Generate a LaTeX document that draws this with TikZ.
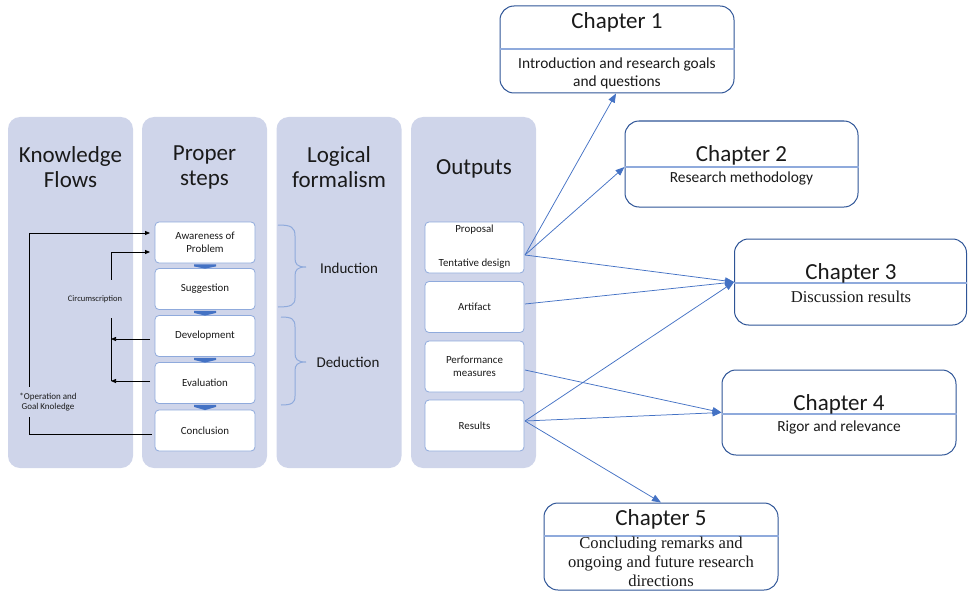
\documentclass[tikz,border=0pt]{standalone}
\usepackage{fontspec}
\setmainfont{Carlito}
\newfontfamily\seriffont{Liberation Serif}
\usetikzlibrary{arrows.meta,calc}
\definecolor{panelfill}{HTML}{CFD5EA}
\definecolor{boxedge}{HTML}{8FAADC}
\definecolor{linkblue}{HTML}{4472C4}
\definecolor{chapedge}{HTML}{2F5597}
\definecolor{inktext}{HTML}{1A1A1A}
\begin{document}
\begin{tikzpicture}[x=1pt,y=-1pt,
  panel/.style={fill=panelfill, draw=none, rounded corners=12pt, minimum width=125pt, minimum height=351pt, inner sep=0pt},
  coltitle/.style={font=\fontsize{23}{25}\selectfont, align=center, text=inktext},
  stepbox/.style={draw=boxedge, fill=white, line width=0.8pt, rounded corners=4pt, minimum width=100pt, minimum height=41pt, inner sep=0pt, font=\fontsize{10.9}{12.5}\selectfont, align=center, text=inktext},
  outbox/.style={draw=boxedge, fill=white, line width=0.8pt, rounded corners=4pt, minimum width=99pt, minimum height=51pt, inner sep=0pt, font=\fontsize{10.9}{12.5}\selectfont, align=center, text=inktext},
  smalltext/.style={font=\fontsize{10.9}{12.5}\selectfont, align=center, text=inktext, inner sep=0pt},
  chapbox/.style={draw=chapedge, fill=white, line width=1pt, rounded corners=14pt, minimum width=234pt, minimum height=87pt, inner sep=0pt},
  chaptitle/.style={font=\fontsize{23}{25}\selectfont, text=inktext, inner sep=0pt},
  chaptext/.style={font=\fontsize{15.4}{18}\selectfont, align=center, text=inktext, inner sep=0pt},
  chapserif/.style={font=\seriffont\fontsize{16.6}{19}\selectfont, align=center, text=inktext, inner sep=0pt},
  divline/.style={draw=boxedge, line width=1.2pt},
  logic/.style={font=\fontsize{15}{17}\selectfont, text=inktext},
  bracket/.style={draw=boxedge, line width=1pt},
  link/.style={draw=linkblue, line width=0.75pt, -{Triangle[length=9pt,width=7pt]}},
  flow/.style={draw=black, line width=0.75pt, -{Triangle[length=5pt,width=4pt]}},
  flowlabel/.style={fill=panelfill, inner xsep=1pt, align=center, text=inktext},
  chevron/.style={fill=linkblue}
]
\useasboundingbox (0,0) rectangle (968,591);

% column panels
\node[panel] (kf)  at (70.5,292.5)  {};
\node[panel] (ps)  at (204.5,292.5) {};
\node[panel] (lf)  at (339,292.5)   {};
\node[panel] (out) at (473.5,292.5) {};

\node[coltitle] (kft) at (70.5,167.5)  {Knowledge\\Flows};
\node[coltitle] (pst) at (204.5,167.5) {Proper\\steps};
\node[coltitle] (lft) at (339,167.5)   {Logical\\formalism};
\node[coltitle] (ott) at (474,169)     {Outputs};

% proper steps
\node[stepbox] (aw)  at (205,242.5) {Awareness of\\Problem};
\node[stepbox] (sug) at (205,289)   {Suggestion};
\node[stepbox] (dev) at (205,336)   {Development};
\node[stepbox] (eva) at (205,383)   {Evaluation};
\node[stepbox] (con) at (205,430.5) {Conclusion};

% small block arrows between the steps
\foreach \a/\b in {aw/sug,sug/dev,dev/eva,eva/con}{
  \fill[chevron] ($(\a.south)+(-11,1)$) -- ($(\a.south)+(11,1)$) -- ($(\a.south)+(11,3)$)
     -- ($(\b.north)+(0,0.5)$) -- ($(\a.south)+(-11,3)$) -- cycle;
}

% knowledge flows
\coordinate (awin1) at (150,233);
\coordinate (awin2) at (150,252);
\coordinate (conout) at (152,434);
\coordinate (devout) at (150,339);
\coordinate (evaout) at (150,381);
\coordinate (devin) at (111,339);
\coordinate (evain) at (111,381);
\draw[flow] (conout) -- (29,434) -- (29,233) -- (awin1);
\draw[flow] (111,381) -- (111,252) -- (awin2);
\draw[flow] (devout) -- (devin);
\draw[flow] (evaout) -- (evain);
\node[flowlabel, font=\fontsize{9}{10.5}\selectfont, minimum height=30pt] (opk) at (48,402) {*Operation and\\Goal Knoledge};
\node[flowlabel, font=\fontsize{8.5}{10}\selectfont, minimum height=38pt] (circ) at (95,299) {Circumscription};

% logical formalism braces
\draw[bracket] (278,225) .. controls (291,225) and (295,227) .. (295,236) -- (295,258)
   .. controls (295,264) and (297,267) .. (306,267)
   .. controls (297,267) and (295,270) .. (295,276) -- (295,298)
   .. controls (295,305) and (291,307) .. (278,307);
\draw[bracket] (281,317) .. controls (292,317) and (295,319) .. (295,327) -- (295,353)
   .. controls (295,359) and (297,362) .. (306,362)
   .. controls (297,362) and (295,365) .. (295,371) -- (295,396)
   .. controls (295,403) and (292,405) .. (281,405);
\node[logic] (ind) at (349,268) {Induction};
\node[logic] (ded) at (348,362) {Deduction};

% outputs
\node[outbox] (prop) at (474.5,247.5) {};
\node[smalltext] (propa) at (474.5,230) {Proposal};
\node[smalltext] (propb) at (474.5,264) {Tentative design};
\node[outbox] (art)  at (474.5,307)   {Artifact};
\node[outbox] (perf) at (474.5,366.5) {Performance\\measures};
\node[outbox] (res)  at (474.5,425.5) {Results};

% chapters
\node[chapbox] (ch1) at (617,49.5) {};
\draw[divline] (ch1.west |- 0,49) -- (ch1.east |- 0,49);
\node[chaptitle] at (617,22) {Chapter 1};
\node[chaptext] at (617,73) {Introduction and research goals\\and questions};

\node[chapbox, minimum width=233pt, minimum height=86pt] (ch2) at (741.5,164) {};
\draw[divline] (ch2.west |- 0,167) coordinate (ch2in) -- (ch2.east |- 0,167);
\node[chaptitle] at (741.5,155) {Chapter 2};
\node[chaptext] at (741.5,178) {Research methodology};

\node[chapbox, minimum width=232pt, minimum height=86pt] (ch3) at (850.5,282) {};
\draw[divline] (ch3.west |- 0,283) -- (ch3.east |- 0,283);
\node[chaptitle] at (851,273) {Chapter 3};
\node[chapserif] at (851,297) {Discussion results};

\node[chapbox, minimum height=85pt] (ch4) at (839,412.5) {};
\draw[divline] (ch4.west |- 0,414) -- (ch4.east |- 0,414);
\node[chaptitle] at (839,404) {Chapter 4};
\node[chaptext] at (839,427) {Rigor and relevance};

\node[chapbox] (ch5) at (661,546.5) {};
\draw[divline] (ch5.west |- 0,536) -- (ch5.east |- 0,536);
\node[chaptitle] at (661,519) {Chapter 5};
\node[chapserif] at (661,561.5) {Concluding remarks and\\ongoing and future research\\directions};

% links from outputs to chapters
\coordinate (propout) at (525,255);
\coordinate (artout)  at (525,304);
\coordinate (perfout) at (525,370);
\coordinate (resout)  at (525,421);
\draw[link] (propout) -- ([xshift=-1pt]ch1.south);
\draw[link] (propout) -- (ch2in);
\draw[link] (propout) -- (ch3.west);
\draw[link] (artout)  -- (ch3.west);
\draw[link] (resout)  -- (ch3.west);
\draw[link] (perfout) -- (ch4.west);
\draw[link] (resout)  -- (ch4.west);
\draw[link] (resout)  -- (ch5.north);
\end{tikzpicture}
\end{document}
